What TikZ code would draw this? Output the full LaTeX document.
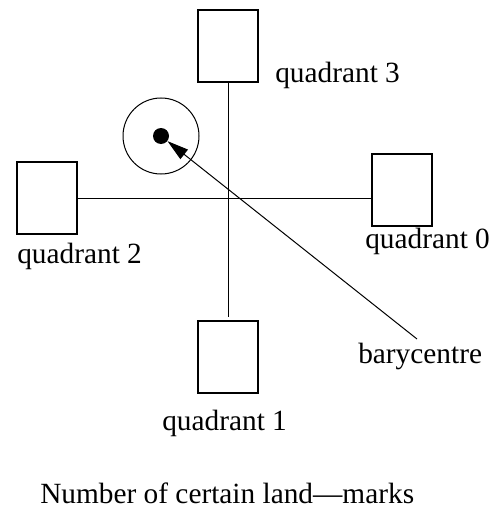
\documentclass[tikz,border=0pt]{standalone}
\usepackage{fontspec}
\setmainfont{Liberation Serif}
\usetikzlibrary{arrows.meta}
\begin{document}
\begin{tikzpicture}[x=0.75pt,y=-0.75pt,
  quadbox/.style={draw,line width=0.8pt,inner sep=0pt,minimum width=45pt,minimum height=54pt},
  lbl/.style={inner sep=0pt,anchor=base west,font=\fontsize{22}{26}\selectfont},
  conn/.style={line width=0.75pt}]
\useasboundingbox (0,0) rectangle (502,510);
% boxes
\node[quadbox] (q3) at (228,46) {};
\node[quadbox] (q1) at (228,357) {};
\node[quadbox] (q2) at (47,198) {};
\node[quadbox] (q0) at (402,190) {};
% labels
\node[lbl] (l3) at (275,83) {quadrant 3};
\node[lbl] (l0) at (365,248) {quadrant 0};
\node[lbl] (l2) at (17,263) {quadrant 2};
\node[lbl] (l1) at (162,430) {quadrant 1};
\node[lbl] (lb) at (358,363) {barycentre};
\node[lbl] (cap) at (40,503) {Number of certain land---marks};
% cross
\coordinate (vend) at (228,317);
\draw[conn] (q3.south) -- (vend);
\draw[conn] (q2.east) -- (q2.east -| q0.west);
% circle and dot
\node[draw,circle,line width=0.75pt,minimum size=57pt,inner sep=0pt] (ring) at (161,136) {};
\node[fill,circle,minimum size=12pt,inner sep=0pt] (dot) at (161,136) {};
% arrow
\coordinate (bt) at (417,339);
\draw[conn,-{Triangle[length=16pt,width=9pt]}] (bt) -- (dot);
\end{tikzpicture}
\end{document}
